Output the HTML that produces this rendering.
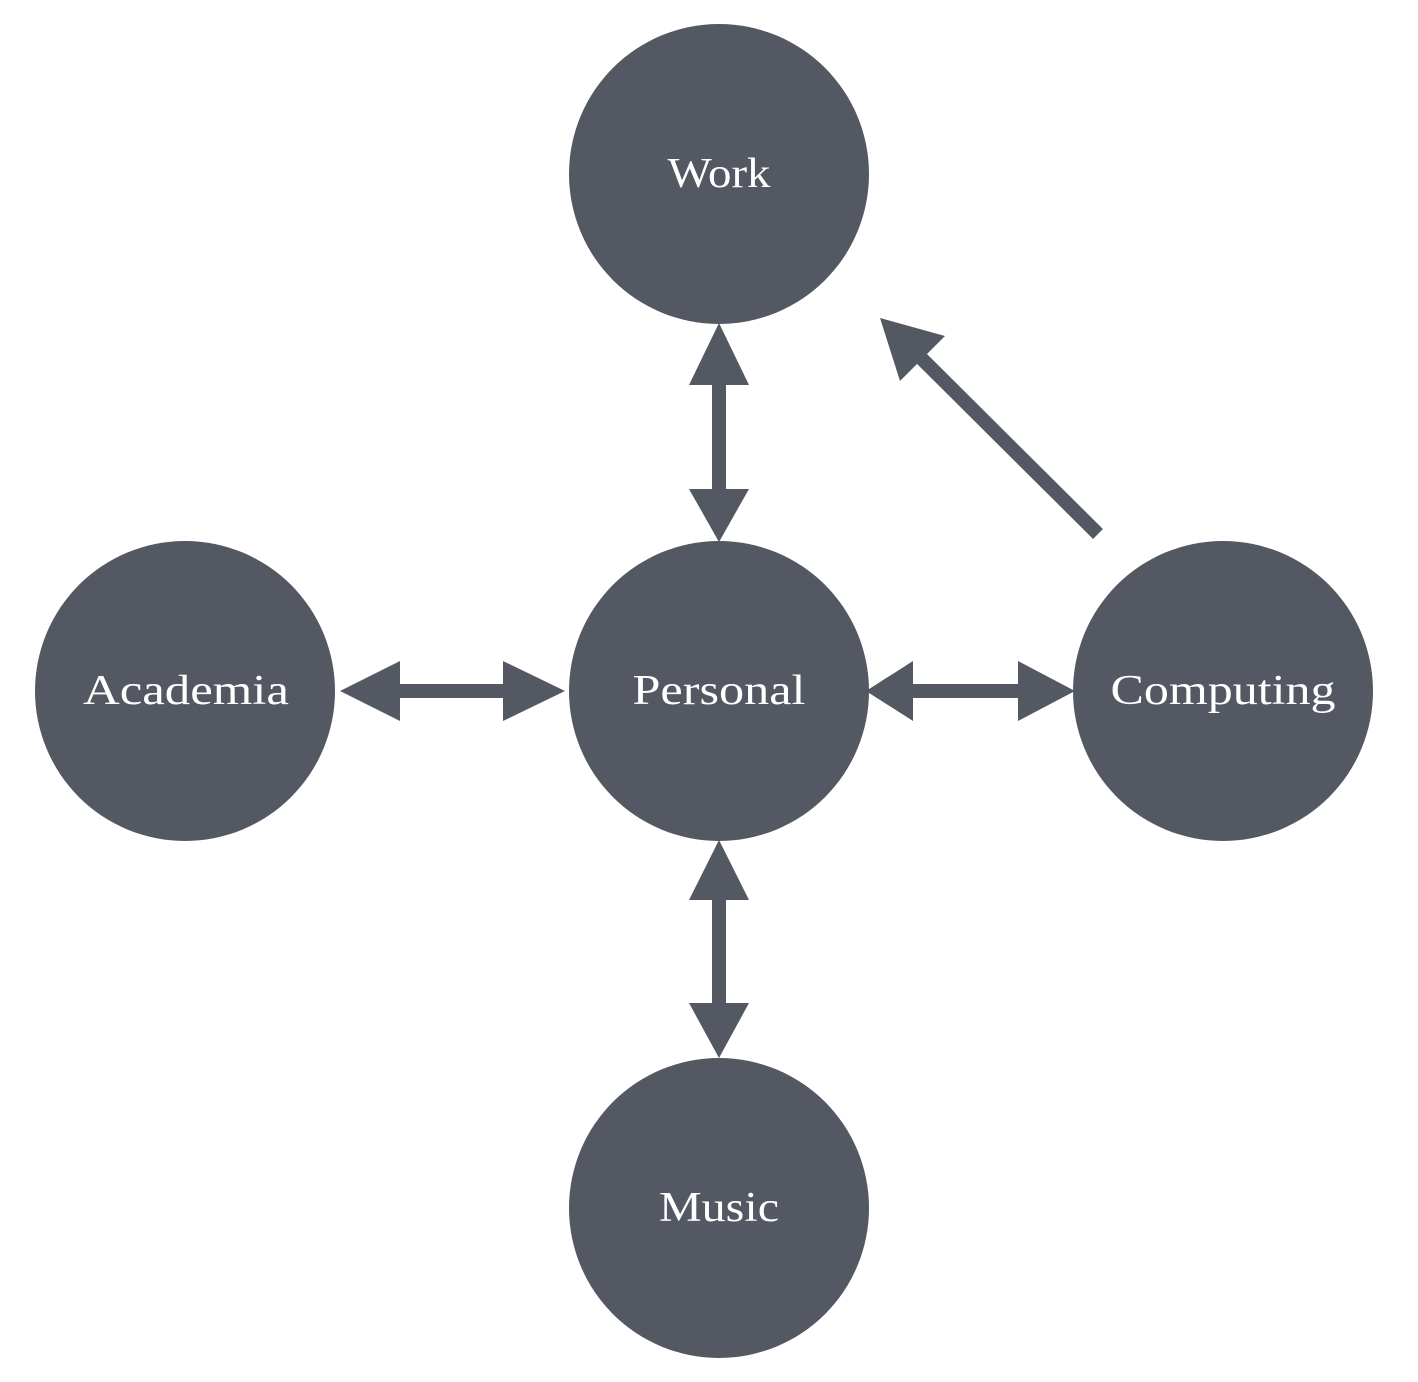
<!DOCTYPE html>
<html><head><meta charset="utf-8"><style>
html,body{margin:0;padding:0;background:#fff;}
svg{display:block;}
text{font-family:"Liberation Serif","DejaVu Serif",serif;font-size:42px;fill:#fff;text-anchor:middle;dominant-baseline:central;}
</style></head><body>
<svg width="1418" height="1382" viewBox="0 0 1418 1382">
<g fill="#535862">
<circle cx="719" cy="174" r="150"/>
<circle cx="719" cy="691" r="150"/>
<circle cx="185" cy="691" r="150"/>
<circle cx="1223" cy="691" r="150"/>
<circle cx="719" cy="1208" r="150"/>
<rect x="712" y="380" width="14" height="115"/>
<polygon points="719,323 749,385 689,385"/>
<polygon points="719,542 749,489 689,489"/>
<rect x="712" y="895" width="14" height="115"/>
<polygon points="719,840 749,900 689,900"/>
<polygon points="719,1058 749,1003 689,1003"/>
<rect x="395" y="684" width="113" height="14"/>
<polygon points="340,691 400,661 400,721"/>
<polygon points="565,691 503,661 503,721"/>
<rect x="908" y="684" width="115" height="14"/>
<polygon points="866,691 913,661 913,721"/>
<polygon points="1075,691 1018,661 1018,721"/>
<line x1="1098" y1="534" x2="915" y2="352" stroke="#535862" stroke-width="14"/>
<polygon points="880,318 945,336 900,381"/>
</g>
<text x="719" y="174" textLength="103" lengthAdjust="spacingAndGlyphs">Work</text>
<text x="719" y="691" textLength="173" lengthAdjust="spacingAndGlyphs">Personal</text>
<text x="186" y="691" textLength="206" lengthAdjust="spacingAndGlyphs">Academia</text>
<text x="1223" y="691" textLength="225" lengthAdjust="spacingAndGlyphs">Computing</text>
<text x="719" y="1208" textLength="120" lengthAdjust="spacingAndGlyphs">Music</text>
</svg>
</body></html>
